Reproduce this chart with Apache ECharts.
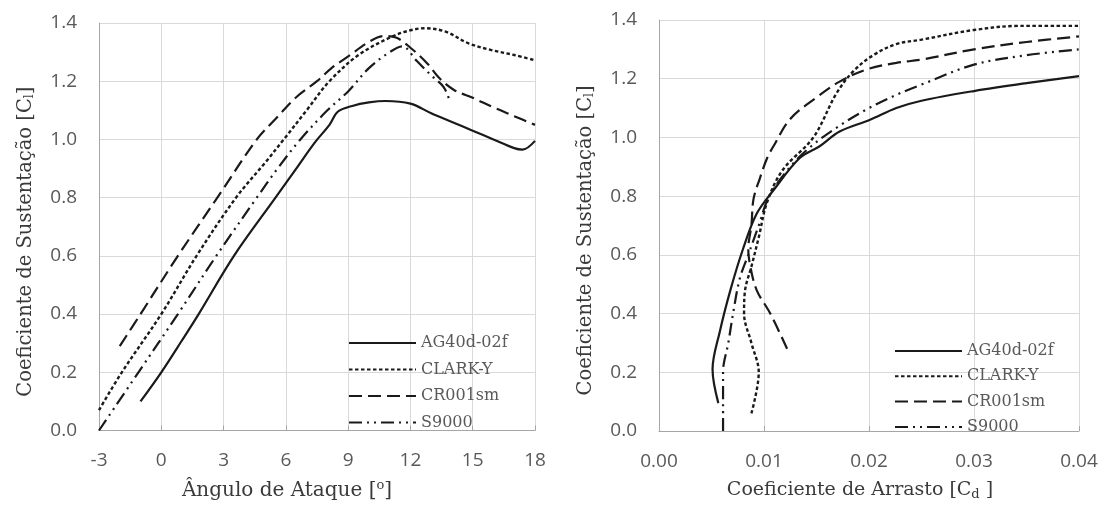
<!DOCTYPE html>
<html>
<head>
<meta charset="utf-8">
<script src="https://cdn.jsdelivr.net/npm/echarts@6/dist/echarts.min.js"></script>
<style>
html,body{margin:0;padding:0;background:#fff;}
#c{width:1102px;height:506px;}
</style>
</head>
<body>
<div id="c"></div>
<script>
// ---- Data ----
const seriesNames = ['AG40d-02f', 'CLARK-Y', 'CR001sm', 'S9000'];

// Left chart: Cl vs angle of attack [deg]
const agAlpha = [[-1,0.10],[0,0.2],[1,0.31],[1.8,0.4],[3.5,0.6],[5.5,0.8],[6.5,0.9],[7.4,0.99],[8.1,1.05],[8.5,1.095],[9.2,1.115],[10,1.127],[10.8,1.132],[12,1.123],[13,1.09],[14,1.06],[15,1.03],[16,1.0],[17,0.97],[17.4,0.965],[18,0.995]];
const clarkAlpha = [[-3,0.07],[-1.9,0.2],[0,0.4],[1.7,0.6],[3.6,0.8],[5.0,0.92],[5.9,1.0],[7,1.1],[8.1,1.2],[9.5,1.29],[11.1,1.353],[12,1.375],[12.7,1.382],[13.7,1.37],[14.8,1.33],[15.9,1.307],[17,1.29],[18,1.272]];
const crAlpha = [[-2,0.29],[-1,0.4],[0.8,0.6],[2.7,0.8],[4.6,1.0],[5.5,1.07],[6.5,1.145],[7.5,1.2],[8.2,1.245],[9,1.285],[10,1.335],[10.7,1.355],[11.3,1.35],[12,1.315],[12.8,1.262],[13.4,1.21],[14.1,1.17],[15,1.143],[16,1.11],[17,1.08],[18,1.05]];
const s9Alpha = [[-3,0.0],[-1.1,0.2],[0.8,0.4],[2.65,0.6],[4.6,0.8],[5.6,0.9],[6.7,1.0],[8,1.1],[9,1.165],[10,1.245],[11,1.3],[11.6,1.32],[12.3,1.27],[13,1.22],[13.6,1.18],[13.9,1.13]];

// Right chart: Cl vs drag coefficient Cd
const agDrag = [[0.00565,0.095],[0.0051,0.21],[0.0058,0.34],[0.0068,0.48],[0.0080,0.62],[0.0093,0.74],[0.0109,0.82],[0.0134,0.93],[0.0153,0.97],[0.0172,1.02],[0.0201,1.06],[0.0226,1.10],[0.025,1.125],[0.030,1.158],[0.035,1.185],[0.040,1.209]];
const clarkDrag = [[0.0088,0.06],[0.0095,0.2],[0.0088,0.3],[0.0081,0.4],[0.0082,0.48],[0.0088,0.56],[0.0095,0.66],[0.0103,0.78],[0.0118,0.89],[0.0147,1.0],[0.0169,1.15],[0.0185,1.225],[0.0204,1.28],[0.0226,1.318],[0.025,1.333],[0.030,1.366],[0.0344,1.38],[0.040,1.38]];
const crDrag = [[0.0122,0.28],[0.0106,0.4],[0.0093,0.48],[0.0087,0.56],[0.0085,0.62],[0.0088,0.7],[0.009,0.79],[0.0096,0.86],[0.0103,0.93],[0.0109,0.97],[0.0125,1.063],[0.015,1.136],[0.0172,1.19],[0.0198,1.232],[0.0226,1.254],[0.025,1.265],[0.030,1.30],[0.035,1.325],[0.040,1.344]];
const s9Drag = [[0.0061,0.0],[0.0061,0.2],[0.0066,0.3],[0.0071,0.41],[0.0077,0.52],[0.0085,0.6],[0.0095,0.7],[0.0105,0.8],[0.0125,0.9],[0.0145,0.97],[0.0172,1.04],[0.0198,1.096],[0.0226,1.145],[0.025,1.18],[0.030,1.248],[0.035,1.28],[0.040,1.3]];

// Axis ticks
const alphaTicks = {min: -3, max: 18, interval: 3};
const dragTicks = {min: 0, max: 0.04, interval: 0.01};
const clTicks = {min: 0, max: 1.4, interval: 0.2};

// ---- Styles ----
const lineColor = '#1a1a1a';
const styles = [
  {width: 2.2, type: 'solid'},
  {width: 2.4, type: [3.5, 2.5]},
  {width: 2.2, type: [13, 6]},
  {width: 2.2, type: [13, 5, 2, 5, 2, 5]}
];
const serifFont = 'DejaVu Serif';
const tickFont = 'Open Sans';
const titleColor = '#3a3a3a';
const tickColor = '#595959';

function mkX(idx, t, name, fmt, fs, padRight) {
  return {
    type: 'value', gridIndex: idx, min: t.min, max: t.max, interval: t.interval,
    name: name, nameLocation: 'middle', nameGap: 49,
    nameTextStyle: {fontFamily: serifFont, fontSize: fs, color: titleColor, padding: [0, padRight, 0, 0],
      rich: {
        sup: {fontFamily: serifFont, fontSize: 13, color: titleColor, verticalAlign: 'top', padding: [0,0,10,0]},
        sub: {fontFamily: serifFont, fontSize: 13, color: titleColor, verticalAlign: 'bottom', padding: [8,0,0,0]}
      }},
    axisLine: {show: true, onZero: false, lineStyle: {color: '#a6a6a6', width: 1}},
    axisTick: {show: true, inside: true, length: 5, lineStyle: {color: '#a6a6a6'}},
    splitLine: {show: true, lineStyle: {color: '#d9d9d9', width: 1}},
    axisLabel: {fontFamily: tickFont, fontSize: 19, color: tickColor, margin: 21, formatter: fmt}
  };
}
function mkY(idx, name) {
  return {
    type: 'value', gridIndex: idx, min: clTicks.min, max: clTicks.max, interval: clTicks.interval,
    name: name, nameLocation: 'middle', nameGap: 63, nameRotate: 90,
    nameTextStyle: {fontFamily: serifFont, fontSize: 19.5, color: titleColor, padding: [0, 30, 0, 0],
      rich: {
        sub: {fontFamily: serifFont, fontSize: 12, color: titleColor, verticalAlign: 'bottom', padding: [8,0,0,0]}
      }},
    axisLine: {show: true, onZero: false, lineStyle: {color: '#a6a6a6', width: 1}},
    axisTick: {show: false},
    splitLine: {show: true, lineStyle: {color: '#d9d9d9', width: 1}},
    axisLabel: {fontFamily: tickFont, fontSize: 19, color: tickColor, margin: 22, formatter: v => v.toFixed(1)}
  };
}

const leftData = [agAlpha, clarkAlpha, crAlpha, s9Alpha];
const rightData = [agDrag, clarkDrag, crDrag, s9Drag];
const series = [];
seriesNames.forEach((n, i) => {
  series.push({name: n, type: 'line', xAxisIndex: 0, yAxisIndex: 0, data: leftData[i],
    smooth: 0.35, symbol: 'none', animation: false,
    lineStyle: {color: lineColor, width: styles[i].width, type: styles[i].type}, itemStyle: {color: lineColor}});
  series.push({name: n, type: 'line', xAxisIndex: 1, yAxisIndex: 1, data: rightData[i],
    smooth: 0.35, symbol: 'none', animation: false,
    lineStyle: {color: lineColor, width: styles[i].width, type: styles[i].type}, itemStyle: {color: lineColor}});
});

function mkLegend(left, top, gap) {
  return {
    orient: 'vertical', left: left, top: top, itemWidth: 67, itemHeight: 14, itemGap: gap,
    data: seriesNames, selectedMode: false,
    itemStyle: {opacity: 0},
    textStyle: {fontFamily: serifFont, fontSize: 16, color: tickColor}
  };
}

const chart = echarts.init(document.getElementById('c'), null, {renderer: 'canvas'});
chart.setOption({
  backgroundColor: '#ffffff',
  animation: false,
  grid: [
    {left: 99, right: 567, top: 23, bottom: 75},
    {left: 659, right: 23, top: 20, bottom: 71}
  ],
  xAxis: [
    mkX(0, alphaTicks, 'Ângulo de Ataque [{sup|o}]', v => String(v), 20, 60),
    mkX(1, dragTicks, 'Coeficiente de Arrasto [C{sub|d} ]', v => v.toFixed(2), 19, 18)
  ],
  yAxis: [
    mkY(0, 'Coeficiente de Sustentação [C{sub|l}]'),
    mkY(1, 'Coeficiente de Sustentação [C{sub|l}]')
  ],
  legend: [mkLegend(343, 330, 10.5), mkLegend(889, 338, 9.3)],
  series: series
});
</script>
</body>
</html>
